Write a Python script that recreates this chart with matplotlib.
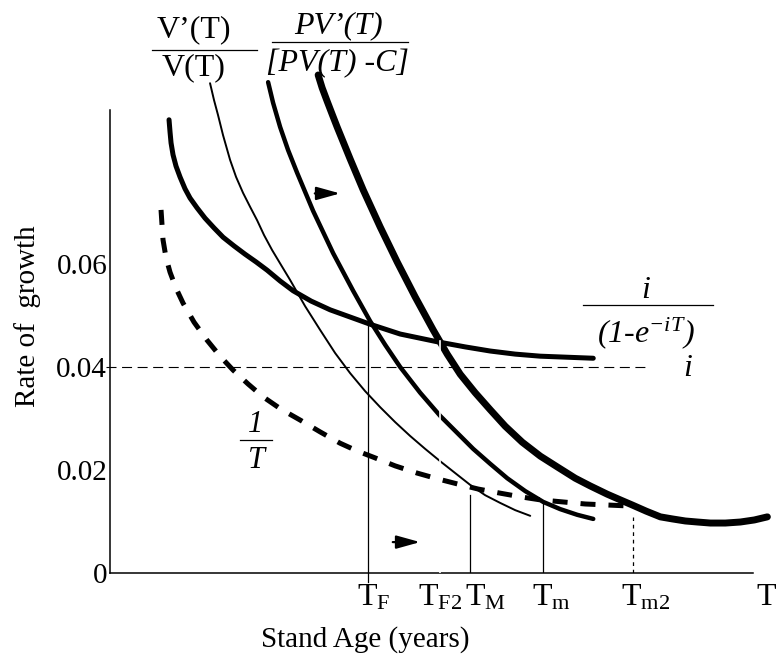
import numpy as np
import matplotlib
matplotlib.use("Agg")
import matplotlib.pyplot as plt
from matplotlib.lines import Line2D

plt.rcParams['font.family'] = ['Liberation Serif', 'DejaVu Serif']
plt.rcParams['mathtext.fontset'] = 'custom'
plt.rcParams['mathtext.rm'] = 'Liberation Serif'
plt.rcParams['mathtext.it'] = 'Liberation Serif:italic'
# bf slot reused for an all-italic formula (digits and brackets too)
plt.rcParams['mathtext.bf'] = 'Liberation Serif:italic'

W, H = 777, 663

# i / (1 - e^-iT)
annuity_x = [11.66, 11.86, 12.06, 12.45, 13.04, 13.83, 14.82, 15.81, 17.19, 18.77, 20.55, 22.33, 24.51,
             26.68, 28.85, 31.03, 33.60, 36.17, 39.72, 43.48, 47.43, 51.38, 57.31, 64.62, 70.16, 75.10,
             80.04, 84.98, 95.45]
annuity_y = [0.0880, 0.0856, 0.0835, 0.0812, 0.0790, 0.0769, 0.0746, 0.0728, 0.0709, 0.0689, 0.0670,
             0.0652, 0.0635, 0.0619, 0.0604, 0.0588, 0.0567, 0.0548, 0.0528, 0.0511, 0.0497, 0.0483,
             0.0464, 0.0449, 0.0439, 0.0431, 0.0425, 0.0421, 0.0417]

# V'(T) / V(T)
growth_x = [19.76, 20.55, 21.34, 22.33, 23.72, 24.90, 26.28, 27.67, 29.05, 30.43, 32.02, 33.79, 35.57,
            38.54, 41.50, 44.47, 47.43, 50.40, 53.36, 56.32, 59.29, 62.25, 65.22, 68.18, 71.15, 74.11,
            77.08, 80.04, 83.00]
growth_y = [0.0951, 0.0918, 0.0889, 0.0850, 0.0802, 0.0769, 0.0738, 0.0711, 0.0685, 0.0656, 0.0627,
            0.0598, 0.0569, 0.0518, 0.0472, 0.0427, 0.0388, 0.0353, 0.0322, 0.0293, 0.0266, 0.0241,
            0.0217, 0.0194, 0.0171, 0.0151, 0.0136, 0.0122, 0.0111]

# PV'(T) / [PV(T) - C]
pv_x = [31.23, 32.21, 33.60, 35.18, 36.96, 40.12, 44.07, 48.02, 51.38, 54.35, 57.31, 61.26, 65.22,
        68.38, 71.74, 75.10, 78.46, 82.02, 85.57, 88.93, 92.29, 95.45]
pv_y = [0.0953, 0.0913, 0.0866, 0.0821, 0.0777, 0.0703, 0.0621, 0.0548, 0.0489, 0.0443, 0.0400,
        0.0350, 0.0305, 0.0274, 0.0241, 0.0212, 0.0184, 0.0159, 0.0138, 0.0124, 0.0113, 0.0105]

# shifted PV curve (heavier)
pv2_x = [41.11, 41.90, 42.89, 43.87, 44.86, 47.43, 50.00, 53.36, 56.72, 60.28, 63.83, 66.60, 69.17,
         72.13, 75.10, 78.06, 81.42, 84.98, 88.34, 91.90, 94.86, 98.22, 100.79, 103.16, 105.93, 108.70,
         111.07, 113.64, 116.01, 118.58, 121.54, 124.51, 127.27, 129.84]
pv2_y = [0.0967, 0.0942, 0.0916, 0.0891, 0.0866, 0.0804, 0.0744, 0.0672, 0.0604, 0.0536, 0.0472,
         0.0425, 0.0386, 0.0350, 0.0317, 0.0285, 0.0254, 0.0227, 0.0206, 0.0184, 0.0169, 0.0153,
         0.0142, 0.0132, 0.0120, 0.0109, 0.0105, 0.0101, 0.0099, 0.0097, 0.0097, 0.0099, 0.0103,
         0.0109]

# 1/T
inv_x = [10.08, 10.47, 11.07, 11.86, 13.04, 14.43, 16.60, 19.17, 21.74, 24.31, 27.27, 30.24, 33.79,
         37.55, 41.50, 45.45, 48.81, 51.98, 56.32, 60.67, 64.62, 68.58, 72.73, 77.08, 81.03, 84.98,
         93.87, 102.77]
inv_y = [0.0705, 0.0647, 0.0612, 0.0584, 0.0553, 0.0524, 0.0487, 0.0452, 0.0421, 0.0394, 0.0367,
         0.0342, 0.0318, 0.0297, 0.0274, 0.0252, 0.0237, 0.0225, 0.0208, 0.0194, 0.0183, 0.0173,
         0.0163, 0.0155, 0.0148, 0.0142, 0.0134, 0.0130]

rate_i = 0.04
rate_i_end = 105.7

# vertical markers: x, top
tf_x, tf_top = 51.0, 0.0484
tf2_x, tf2_top = 65.2, 0.0450
tm_x, tm_top = 71.1, 0.0151
tmin_x, tmin_top = 85.6, 0.0138
tm2_x, tm2_top = 103.2, 0.0109

tick_pos = [51.0, 63.0, 72.3, 85.6, 103.2, 129.8]
tick_labels = [r'$\mathrm{T}_{\mathrm{F}}$', r'$\mathrm{T}_{\mathrm{F2}}$', r'$\mathrm{T}_{\mathrm{M}}$',
               r'$\mathrm{T}_{\mathrm{m}}$', r'$\mathrm{T}_{\mathrm{m2}}$', r'$\mathrm{T}$']
ytick_vals = [0, 0.02, 0.04, 0.06]
ytick_labels = ['0', '0.02', '0.04', '0.06']


def fpos(x, y):
    return x / W, 1 - y / H


fig = plt.figure(figsize=(W / 100, H / 100), dpi=100)
ax = fig.add_axes([110 / W, (H - 573) / H, 643 / W, 463 / H])
ax.set_xlim(0, 127)
ax.set_ylim(0, 0.0899)
for s in ['top', 'right']:
    ax.spines[s].set_visible(False)
ax.spines['left'].set_linewidth(1.1)
ax.spines['bottom'].set_linewidth(1.1)

kw = dict(color='k', solid_capstyle='round', solid_joinstyle='round', clip_on=False)
ax.plot(annuity_x, annuity_y, lw=3.6, **kw)
ax.plot(growth_x, growth_y, lw=1.4, **kw)
ax.plot(pv_x, pv_y, lw=3.2, **kw)
ax.plot(pv2_x, pv2_y, lw=5.0, **kw)
ax.plot(inv_x, inv_y, color='k', lw=3.6, dashes=(3.0, 2.6), clip_on=False)
ax.plot([-0.8, rate_i_end], [rate_i, rate_i], color='k', lw=0.8, dashes=(9, 5), clip_on=False)

ax.plot([tf_x, tf_x], [-0.0018, tf_top], color='k', lw=0.9, clip_on=False)
ax.plot([tm_x, tm_x], [0, tm_top], color='k', lw=0.9)
ax.plot([tmin_x, tmin_x], [0, tmin_top], color='k', lw=0.9)
ax.plot([tm2_x, tm2_x], [0, tm2_top], color='k', lw=0.9, dashes=(3, 3))
ax.plot([tf2_x, tf2_x], [0, tf2_top], color='white', lw=1.2, zorder=5)

arrow = dict(arrowstyle='-|>,head_length=0.9,head_width=0.25', lw=1.6, color='k', mutation_scale=16)
ax.annotate('', xy=(46.0, 0.0737), xytext=(39.9, 0.0737), arrowprops=arrow)
ax.annotate('', xy=(61.8, 0.0060), xytext=(55.3, 0.0060), arrowprops=arrow)

ax.set_yticks(ytick_vals)
ax.set_yticklabels(ytick_labels, fontsize=21)
ax.tick_params(axis='y', length=0, pad=2)
ax.set_xticks([])
for xp, lab in zip(tick_pos, tick_labels):
    ax.annotate(lab, xy=(xp, 0), xycoords='data', xytext=(-8, -7), textcoords='offset points',
                ha='left', va='top', fontsize=23, annotation_clip=False)

fig.text(*fpos(365, 640), 'Stand Age (years)', ha='center', va='center', fontsize=21)
fig.text(*fpos(28, 316), 'Rate of  growth', ha='center', va='center', fontsize=21, rotation=90)


def frac(xc, y_num, y_line, y_den, x0, x1, num, den, style='normal', size=23):
    fig.text(*fpos(xc, y_num), num, ha='center', va='center', fontsize=size, style=style)
    fig.text(*fpos(xc, y_den), den, ha='center', va='center', fontsize=size, style=style)
    fig.add_artist(Line2D([x0 / W, x1 / W], [1 - y_line / H] * 2, transform=fig.transFigure,
                          color='k', lw=0.9))


frac(194, 30, 50, 68, 152, 257, 'V\u2019(T)', 'V(T)')
frac(338, 26, 42, 64, 272, 408, 'PV\u2019(T)', '[PV(T) -C]', style='italic')
frac(646, 290, 305, 333, 583, 713, 'i', r'$\mathbf{(1}$-$\mathbf{e^{-iT})}$', style='italic')
frac(256, 425, 440, 461, 240, 272, '1', 'T', style='italic', size=22)
fig.text(*fpos(688, 368), 'i', ha='center', va='center', fontsize=23, style='italic')

fig.savefig('out.png', dpi=100)
